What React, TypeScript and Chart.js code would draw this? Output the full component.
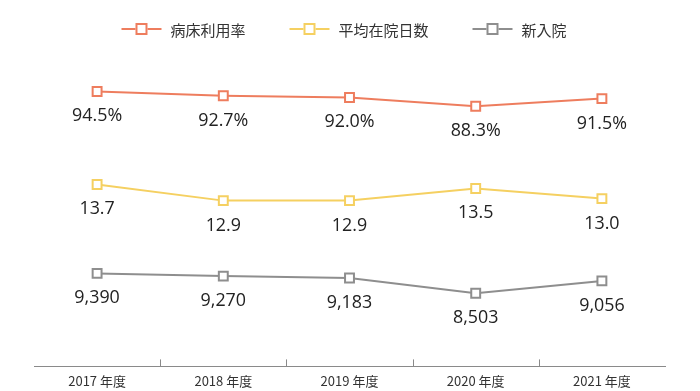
import React, { useEffect, useRef } from "react";
import { Chart, registerables } from "chart.js";

Chart.register(...registerables);

const categories = ["2017 年度", "2018 年度", "2019 年度", "2020 年度", "2021 年度"];
const seriesNames = ["病床利用率", "平均在院日数", "新入院"];
const bedRate = [94.5, 92.7, 92.0, 88.3, 91.5];
const avgStay = [13.7, 12.9, 12.9, 13.5, 13.0];
const newAdmissions = [9390, 9270, 9183, 8503, 9056];
const seriesColors = ["#EE7D5E", "#F5D061", "#8E8E8E"];

const formatters = [
  (v: number) => v.toFixed(1) + "%",
  (v: number) => v.toFixed(1),
  (v: number) => v.toLocaleString("en-US"),
];

const dataLabelPlugin = {
  id: "dataLabels",
  afterDatasetsDraw(chart: any) {
    const ctx = chart.ctx;
    chart.data.datasets.forEach((ds: any, di: number) => {
      const meta = chart.getDatasetMeta(di);
      meta.data.forEach((pt: any, i: number) => {
        const text = formatters[di](ds.data[i]);
        ctx.save();
        ctx.translate(pt.x, pt.y + 30);
        ctx.scale(0.94, 1);
        ctx.font = '19px "Open Sans", "Noto Sans", sans-serif';
        ctx.fillStyle = "#222222";
        ctx.textAlign = "center";
        ctx.textBaseline = "alphabetic";
        ctx.fillText(text, 0, 0);
        ctx.restore();
      });
    });
  },
};

const boundaryTickPlugin = {
  id: "boundaryTicks",
  afterDraw(chart: any) {
    const ctx = chart.ctx;
    const xs = chart.scales.x;
    const bottom = chart.chartArea.bottom;
    ctx.save();
    ctx.strokeStyle = "#8A8A8A";
    ctx.lineWidth = 1;
    for (let i = 1; i < categories.length; i++) {
      const x = Math.round((xs.getPixelForValue(i - 1) + xs.getPixelForValue(i)) / 2) + 0.5;
      ctx.beginPath();
      ctx.moveTo(x, bottom - 7);
      ctx.lineTo(x, bottom);
      ctx.stroke();
    }
    ctx.restore();
  },
};

const legendPlugin = {
  id: "customLegend",
  afterDraw(chart: any) {
    const ctx = chart.ctx;
    ctx.save();
    ctx.font = '15px "Noto Sans CJK JP", sans-serif';
    const items = chart.data.datasets.map((ds: any) => {
      const tw = ctx.measureText(ds.label).width;
      return { label: ds.label, color: ds.borderColor, w: 40 + 9 + tw };
    });
    const gap = 44;
    const total = items.reduce((s: number, it: any) => s + it.w, 0) + gap * (items.length - 1);
    let x = chart.width / 2 - 6 - total / 2;
    const y = 29;
    items.forEach((it: any) => {
      ctx.strokeStyle = it.color;
      ctx.lineWidth = 2;
      ctx.beginPath();
      ctx.moveTo(x, y);
      ctx.lineTo(x + 40, y);
      ctx.stroke();
      ctx.fillStyle = "#ffffff";
      ctx.fillRect(x + 14, y - 6, 12, 12);
      ctx.strokeRect(x + 15, y - 5, 10, 10);
      ctx.fillStyle = "#333333";
      ctx.textAlign = "left";
      ctx.textBaseline = "middle";
      ctx.fillText(it.label, x + 49, y + 1);
      x += it.w + gap;
    });
    ctx.restore();
  },
};

export default function App() {
  const canvasRef = useRef<HTMLCanvasElement | null>(null);

  useEffect(() => {
    document.body.style.margin = "0";
    const canvas = canvasRef.current;
    if (!canvas) return;
    const mk = (i: number, data: number[], axis: string) => ({
      label: seriesNames[i],
      data,
      yAxisID: axis,
      borderColor: seriesColors[i],
      backgroundColor: "#ffffff",
      borderWidth: 2,
      pointStyle: "rect" as const,
      pointRadius: 6.3,
      pointBorderWidth: 2,
      pointBackgroundColor: "#ffffff",
      pointBorderColor: seriesColors[i],
      tension: 0,
      clip: false as any,
    });
    const chart = new Chart(canvas, {
      type: "line",
      data: {
        labels: categories,
        datasets: [
          mk(0, bedRate, "yRate"),
          mk(1, avgStay, "yStay"),
          mk(2, newAdmissions, "yNew"),
        ],
      },
      options: {
        animation: false,
        responsive: true,
        maintainAspectRatio: false,
        layout: { padding: { top: 50, left: 34, right: 35, bottom: -5 } },
        plugins: {
          legend: { display: false },
          tooltip: { enabled: false },
        },
        scales: {
          x: {
            offset: true,
            grid: { display: false, drawTicks: false },
            border: { display: true, color: "#8A8A8A", width: 1 },
            ticks: {
              padding: 7,
              color: "#333333",
              font: { family: '"Noto Sans CJK JP", sans-serif', size: 13 },
            },
          },
          yRate: { display: false, min: -20.3, max: 111.8 },
          yStay: { display: false, min: 4.7, max: 20.35 },
          yNew: { display: false, min: 5246, max: 19345 },
        },
      },
      plugins: [dataLabelPlugin, boundaryTickPlugin, legendPlugin],
    });
    return () => chart.destroy();
  }, []);

  return (
    <div style={{ width: 700, height: 391, position: "relative" }}>
      <canvas ref={canvasRef} />
    </div>
  );
}
